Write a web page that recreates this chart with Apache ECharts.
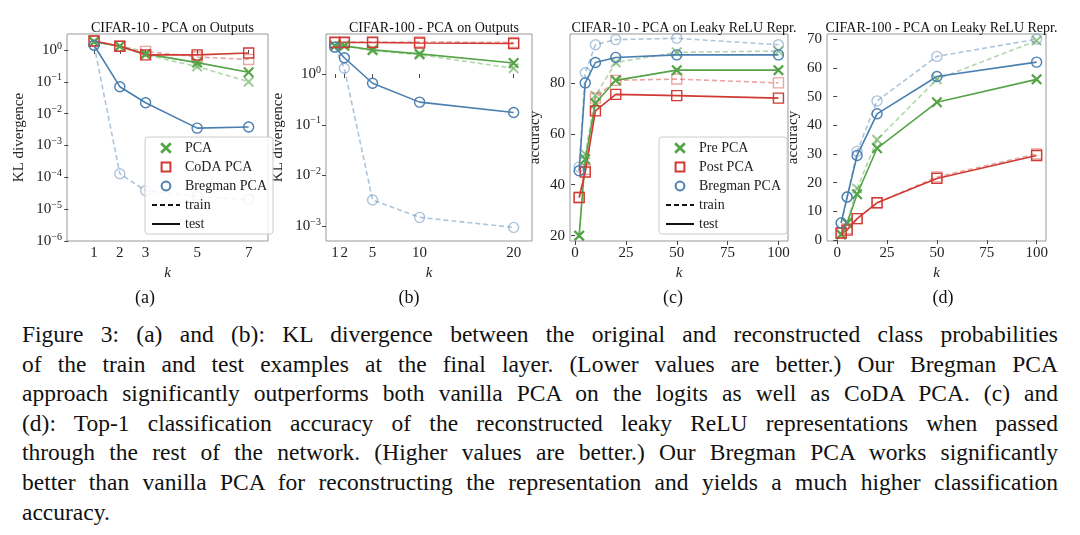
<!DOCTYPE html>
<html><head><meta charset="utf-8">
<script src="https://cdn.jsdelivr.net/npm/echarts@6/dist/echarts.min.js"></script>
<style>
body{margin:0;background:#fff;}
#c{position:absolute;left:0;top:0;width:1080px;height:310px;}
#cap{position:absolute;left:22px;top:320px;width:1036px;font-family:"Liberation Serif","DejaVu Serif",serif;font-size:23.5px;line-height:29.6px;color:#111;}
#cap div{text-align:justify;text-align-last:justify;white-space:nowrap;}
#cap div.last{text-align-last:left;}
</style></head><body>
<div id="c"></div>
<div id="cap">
<div>Figure 3: (a) and (b): KL divergence between the original and reconstructed class probabilities</div>
<div>of the train and test examples at the final layer. (Lower values are better.) Our Bregman PCA</div>
<div>approach significantly outperforms both vanilla PCA on the logits as well as CoDA PCA. (c) and</div>
<div>(d): Top-1 classification accuracy of the reconstructed leaky ReLU representations when passed</div>
<div>through the rest of the network. (Higher values are better.) Our Bregman PCA works significantly</div>
<div>better than vanilla PCA for reconstructing the representation and yields a much higher classification</div>
<div class="last">accuracy.</div>
</div>
<script>
// Panel (a)
const kA = [1,2,3,5,7];
const aPCAtest = [1.8,1.3,0.75,0.4,0.2];
const aPCAtrain = [1.8,1.3,0.7,0.3,0.1];
const aCoDAtest = [1.9,1.3,0.7,0.7,0.8];
const aCoDAtrain = [1.9,1.3,0.9,0.6,0.5];
const aBregtest = [1.4,0.07,0.022,0.0035,0.0038];
const aBregtrain = [1.4,1.3e-4,3.8e-5,2.5e-5,2e-5];
// Panel (b)
const kB = [1,2,5,10,20];
const bPCAtest = [3.6,3.6,3.0,2.5,1.65];
const bPCAtrain = [3.6,3.6,2.9,2.4,1.3];
const bCoDAtest = [4.2,4.2,4.2,4.1,4.0];
const bCoDAtrain = [4.3,4.3,4.3,4.3,4.2];
const bBregtest = [3.4,2.1,0.66,0.28,0.175];
const bBregtrain = [3.4,1.3,0.0033,0.0015,0.00095];
// Panel (c)
const kC = [2,5,10,20,50,100];
const cPretest = [20,50,72,81,85,85];
const cPretrain = [20,52,75,88,92,92.5];
const cPosttest = [35,45,69,75.5,75,74];
const cPosttrain = [35,46,74,81,81.5,80];
const cBregtest = [45.5,80,88,90,91,91];
const cBregtrain = [47,84,95,97,97.5,95];
// Panel (d)
const kD = [2,5,10,20,50,100];
const dPretest = [2,6,16,32,48,56];
const dPretrain = [2,6,18,35,56,69.5];
const dPosttest = [2.5,3.5,7.5,13,21.5,29.5];
const dPosttrain = [2.5,4,7.5,13,22,30];
const dBregtest = [6,15,29.5,44,57,62];
const dBregtrain = [6,15,31,48.5,64,70];

const titles = ['CIFAR-10 - PCA on Outputs','CIFAR-100 - PCA on Outputs','CIFAR-10 - PCA on Leaky ReLU Repr.','CIFAR-100 - PCA on Leaky ReLU Repr.'];
const subLabels = ['(a)','(b)','(c)','(d)'];

const G='#55a448', R='#d03a33', B='#4a7fb0';
const FONT='"Liberation Serif","DejaVu Serif",serif';
const XSYM='path://M0,0.6L0.6,0L5,4.4L9.4,0L10,0.6L5.6,5L10,9.4L9.4,10L5,5.6L0.6,10L0,9.4L4.4,5Z';
const logFmt=v=>'{b|10}{s|'+String(Math.round(v)).replace('-','−')+'}';
const logRich={b:{fontFamily:FONT,fontSize:15,color:'#222'},s:{fontFamily:FONT,fontSize:10,color:'#222',verticalAlign:'top',padding:[0,0,8,0]}};

const grids=[
 {left:67,top:34,width:201,height:207},
 {left:326,top:34,width:206,height:207},
 {left:570,top:34,width:218,height:207},
 {left:827,top:34,width:219,height:207}
].map(g=>Object.assign(g,{show:true,borderColor:'#999',borderWidth:1,backgroundColor:'transparent'}));

const axBase={axisLine:{show:false},splitLine:{show:false},
 axisTick:{show:true,length:4,lineStyle:{color:'#444'}},
 axisLabel:{fontFamily:FONT,fontSize:15,color:'#222',margin:5}};
function xAx(i,min,max,interval,custom){
 const a=JSON.parse(JSON.stringify(axBase));
 Object.assign(a,{type:'value',gridIndex:i,min,max,interval,name:'k',nameLocation:'middle',nameGap:21,
  nameTextStyle:{fontFamily:FONT,fontStyle:'italic',fontSize:15,color:'#222'}});
 a.axisLabel.customValues=custom;a.axisTick.customValues=custom;
 return a;
}
function yAx(i,min,max,interval,name,log,custom,gap){
 const a=JSON.parse(JSON.stringify(axBase));
 Object.assign(a,{type:'value',gridIndex:i,min,max,interval,name,nameLocation:'middle',nameGap:gap,
  nameTextStyle:{fontFamily:FONT,fontSize:15,color:'#222'}});
 if(log){a.axisLabel.formatter=logFmt;a.axisLabel.rich=logRich;}
 a.axisLabel.customValues=custom;a.axisTick.customValues=custom;
 return a;
}
const xAxis=[xAx(0,-0.05,7.75,1,kA),xAx(1,0.05,21.95,1,kB),xAx(2,-2.5,104.7,25,[0,25,50,75,100]),xAx(3,-5.1,104.7,25,[0,25,50,75,100])];
const yAxis=[yAx(0,-6,0.5,1,'KL divergence',true,[-6,-5,-4,-3,-2,-1,0],40),
 yAx(1,-3.29,0.79,1,'KL divergence',true,[-3,-2,-1,0],40),
 yAx(2,17.9,99.2,20,'accuracy',false,[20,40,60,80],27),
 yAx(3,-0.3,71.8,10,'accuracy',false,[0,10,20,30,40,50,60,70],26)];

const series=[];
function add(i,name,xs,ys,color,sym,dashed,log){
 const data=xs.map((x,j)=>[x,log?Math.log10(ys[j]):ys[j]]);
 const op=dashed?0.45:1;
 series.push({type:'line',name,xAxisIndex:i,yAxisIndex:i,data,symbol:sym,symbolSize:sym===XSYM?9:10,
  showAllSymbol:true,z:dashed?2:3,
  lineStyle:{color,width:1.6,type:dashed?[5,3]:'solid',opacity:op},
  itemStyle:{color:sym===XSYM?color:'rgba(255,255,255,0)',borderColor:color,borderWidth:1.4,opacity:op},
  emphasis:{disabled:true},animation:false});
}
add(0,'a1',kA,aPCAtrain,G,XSYM,true,true);
add(0,'a2',kA,aCoDAtrain,R,'rect',true,true);
add(0,'a3',kA,aBregtrain,B,'circle',true,true);
add(0,'a4',kA,aPCAtest,G,XSYM,false,true);
add(0,'a5',kA,aCoDAtest,R,'rect',false,true);
add(0,'a6',kA,aBregtest,B,'circle',false,true);
add(1,'b1',kB,bPCAtrain,G,XSYM,true,true);
add(1,'b2',kB,bCoDAtrain,R,'rect',true,true);
add(1,'b3',kB,bBregtrain,B,'circle',true,true);
add(1,'b4',kB,bPCAtest,G,XSYM,false,true);
add(1,'b5',kB,bCoDAtest,R,'rect',false,true);
add(1,'b6',kB,bBregtest,B,'circle',false,true);
add(2,'c1',kC,cPretrain,G,XSYM,true,false);
add(2,'c2',kC,cPosttrain,R,'rect',true,false);
add(2,'c3',kC,cBregtrain,B,'circle',true,false);
add(2,'c4',kC,cPretest,G,XSYM,false,false);
add(2,'c5',kC,cPosttest,R,'rect',false,false);
add(2,'c6',kC,cBregtest,B,'circle',false,false);
add(3,'d1',kD,dPretrain,G,XSYM,true,false);
add(3,'d2',kD,dPosttrain,R,'rect',true,false);
add(3,'d3',kD,dBregtrain,B,'circle',true,false);
add(3,'d4',kD,dPretest,G,XSYM,false,false);
add(3,'d5',kD,dPosttest,R,'rect',false,false);
add(3,'d6',kD,dBregtest,B,'circle',false,false);
function dummy(name,color,sym,dashed){
 series.push({type:'line',name,xAxisIndex:0,yAxisIndex:0,data:[],symbol:sym,symbolSize:sym===XSYM?9:10,
  lineStyle:{color:dashed===null?color:'#111',width:dashed===null?0:1.8,opacity:dashed===null?0:1,type:dashed?[5,3]:'solid'},
  itemStyle:{color:sym===XSYM?color:'rgba(255,255,255,0)',borderColor:color,borderWidth:1.4}});
}
dummy('PCA',G,XSYM,null);dummy('CoDA PCA',R,'rect',null);dummy('Bregman PCA',B,'circle',null);
dummy('Pre PCA',G,XSYM,null);dummy('Post PCA',R,'rect',null);
dummy('train','#111','none',true);dummy('test','#111','none',false);

const lineOnly=n=>({name:n,itemStyle:{opacity:0,borderWidth:0}});
const legBase={orient:'vertical',itemGap:5,itemWidth:28,itemHeight:11,selectedMode:false,
 backgroundColor:'rgba(255,255,255,0.85)',borderColor:'#ccc',borderWidth:1,borderRadius:3,padding:[4,6,3,6],
 textStyle:{fontFamily:FONT,fontSize:14,color:'#222'}};
const legend=[Object.assign({},legBase,{left:145,top:137,data:['PCA','CoDA PCA','Bregman PCA',lineOnly('train'),lineOnly('test')]}),
 Object.assign({},legBase,{left:659,top:137,data:['Pre PCA','Post PCA','Bregman PCA',lineOnly('train'),lineOnly('test')]})];

const title=titles.map((t,i)=>({text:t,left:grids[i].left+grids[i].width/2,top:16,textAlign:'center',
 textStyle:{fontFamily:FONT,fontSize:14,fontWeight:'normal',color:'#111'}}))
 .concat(subLabels.map((t,i)=>({text:t,left:[140,404,668,938][i],top:284,textAlign:'center',
 textStyle:{fontFamily:FONT,fontSize:18,fontWeight:'normal',color:'#111'}})));

const chart=echarts.init(document.getElementById('c'));
chart.setOption({animation:false,title,grid:grids,xAxis,yAxis,series,legend});
</script></body></html>
